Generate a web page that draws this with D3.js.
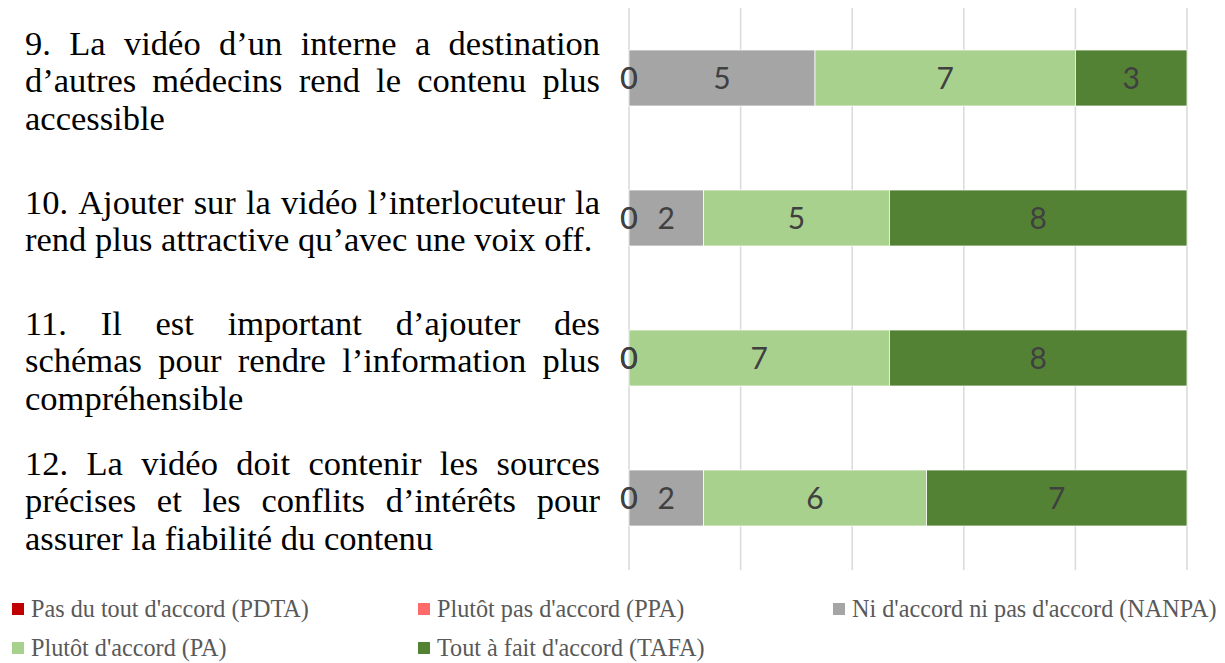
<!DOCTYPE html>
<html><head><meta charset="utf-8">
<script src="https://cdn.jsdelivr.net/npm/d3@7"></script>
<style>body{margin:0;background:#fff;} svg{display:block;}</style>
</head><body>
<svg id="c" width="1225" height="663"></svg>
<script>
const categories = ["9", "10", "11", "12"];
const questionLines = [
  ["9. La vidéo d’un interne a destination", "d’autres médecins rend le contenu plus", "accessible"],
  ["10. Ajouter sur la vidéo l’interlocuteur la", "rend plus attractive qu’avec une voix off."],
  ["11. Il est important d’ajouter des", "schémas pour rendre l’information plus", "compréhensible"],
  ["12. La vidéo doit contenir les sources", "précises et les conflits d’intérêts pour", "assurer la fiabilité du contenu"]
];
const seriesNames = ["Pas du tout d'accord (PDTA)", "Plutôt pas d'accord (PPA)", "Ni d'accord ni pas d'accord (NANPA)", "Plutôt d'accord (PA)", "Tout à fait d'accord (TAFA)"];
const seriesColors = ["#C00000", "#FF6B6B", "#A5A5A5", "#A9D18E", "#548235"];
const PDTA = [0, 0, 0, 0];
const PPA = [0, 0, 0, 0];
const NANPA = [5, 2, 0, 2];
const PA = [7, 5, 7, 6];
const TAFA = [3, 8, 8, 7];
const xTicks = [0, 3, 6, 9, 12, 15];

const seriesValues = [PDTA, PPA, NANPA, PA, TAFA];
const svg = d3.select("#c");

const x = d3.scaleLinear().domain([0, 15]).range([629, 1187]);
const y = d3.scaleBand().domain(categories).range([8, 568]).paddingInner(0.6).paddingOuter(0.3);

// gridlines
svg.append("g").selectAll("line").data(xTicks).join("line")
  .attr("x1", d => x(d)).attr("x2", d => x(d))
  .attr("y1", 8).attr("y2", 570)
  .attr("stroke", "#d9d9d9").attr("stroke-width", 1.5);

// stacked data
const rows = categories.map((c, i) => {
  const o = {cat: c};
  seriesNames.forEach((s, j) => o[s] = seriesValues[j][i]);
  return o;
});
const stack = d3.stack().keys(seriesNames)(rows);

const gBars = svg.append("g");
stack.forEach((layer, j) => {
  gBars.selectAll(null).data(layer).join("rect")
    .attr("x", d => x(d[0]))
    .attr("width", d => x(d[1]) - x(d[0]))
    .attr("y", d => y(d.data.cat))
    .attr("height", y.bandwidth())
    .attr("fill", seriesColors[j])
    .attr("stroke", d => (d[1] - d[0]) > 0 ? "#ffffff" : "none")
    .attr("stroke-width", 0.75);
});
stack.forEach((layer, j) => {
  gBars.selectAll(null).data(layer).join("text")
    .attr("x", d => x((d[0] + d[1]) / 2))
    .attr("y", d => y(d.data.cat) + y.bandwidth() / 2)
    .attr("dy", "0.36em")
    .attr("text-anchor", "middle")
    .attr("font-family", "Lato, 'Open Sans', sans-serif")
    .attr("font-size", 30)
    .attr("fill", "#404040")
    .text(d => d[1] - d[0]);
});

// question labels, justified
const fs = 34.5, lh = 37.5, left = 25, right = 600;
const gq = svg.append("g").attr("font-family", "'Liberation Serif', 'Times New Roman', serif")
  .attr("font-size", fs).attr("fill", "#000");
questionLines.forEach((lines, i) => {
  const cy = y(categories[i]) + y.bandwidth() / 2 + 4;
  const y0 = cy - (lines.length - 1) * lh / 2;
  lines.forEach((line, k) => {
    const base = y0 + k * lh + fs * 0.3;
    const last = k === lines.length - 1;
    if (last) {
      gq.append("text").attr("x", left).attr("y", base).text(line);
    } else {
      const words = line.split(" ");
      const nodes = words.map(w => gq.append("text").attr("y", base).text(w));
      const widths = nodes.map(n => n.node().getComputedTextLength());
      const total = d3.sum(widths);
      const gap = (right - left - total) / (words.length - 1);
      let cx = left;
      nodes.forEach((n, m) => { n.attr("x", cx); cx += widths[m] + gap; });
    }
  });
});

// legend
const legendPos = [[12, 609], [418, 609], [833, 609], [12, 648], [418, 648]];
const gl = svg.append("g");
seriesNames.forEach((s, j) => {
  const [lx, ly] = legendPos[j];
  gl.append("rect").attr("x", lx).attr("y", ly - 6).attr("width", 12).attr("height", 12).attr("fill", seriesColors[j]);
  gl.append("text").attr("x", lx + 19).attr("y", ly).attr("dy", "0.35em")
    .attr("font-family", "'Liberation Serif', 'Times New Roman', serif")
    .attr("font-size", 24.2).attr("fill", "#595959").text(s);
});
</script>
</body></html>
